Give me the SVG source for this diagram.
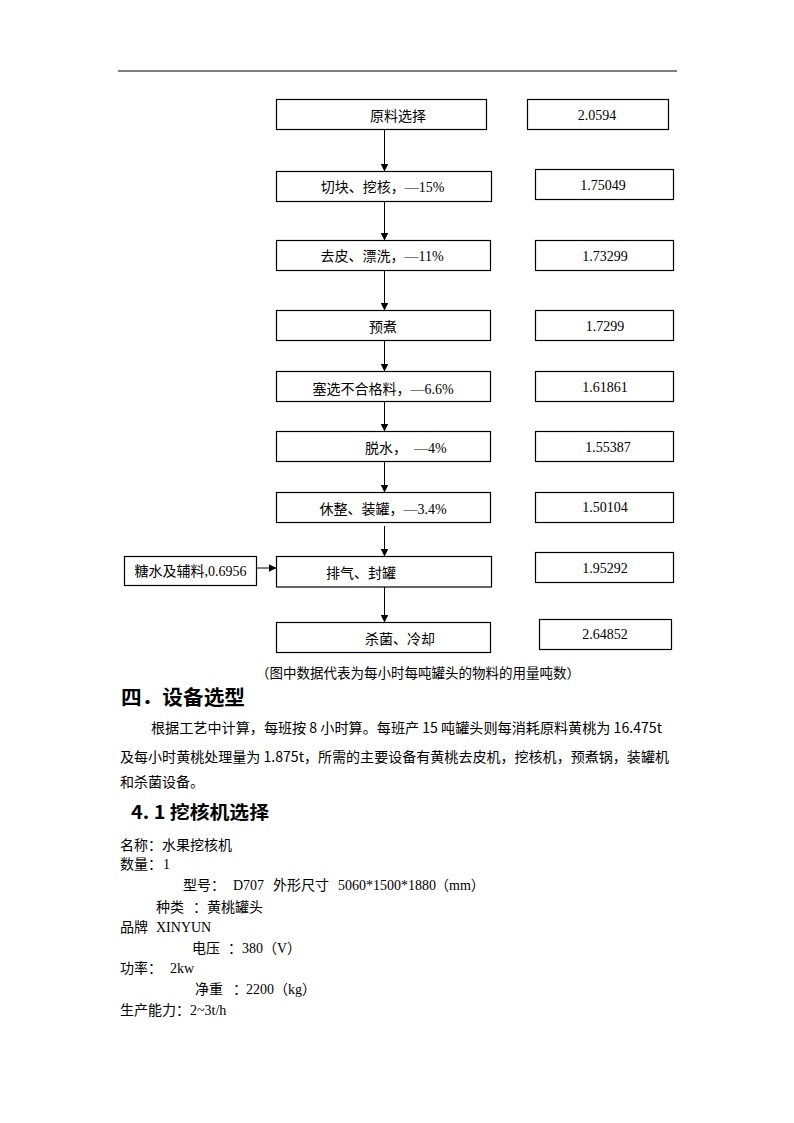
<svg xmlns="http://www.w3.org/2000/svg" width="794" height="1123" viewBox="0 0 794 1123">
<style>
.box{fill:#fff;stroke:#000;stroke-width:1.2}
.t{font-family:'Liberation Serif','Noto Sans CJK SC',serif;font-size:14px;fill:#000}
.m{text-anchor:middle}
.cn{font-family:'Noto Sans CJK SC',sans-serif;font-size:14px;fill:#000}
.h{font-family:'Noto Sans CJK SC',sans-serif;font-weight:bold;fill:#000}
.c{stroke:#000;stroke-width:1;fill:none;marker-end:url(#arr)}
</style>
<defs>
<marker id="arr" viewBox="0 0 8 8" refX="8" refY="4" markerWidth="8" markerHeight="8" markerUnits="userSpaceOnUse" orient="auto">
<path d="M0,0 L8,4 L0,8 z" fill="#000"/>
</marker>
</defs>
<rect width="794" height="1123" fill="#fff"/>
<line x1="118" y1="71" x2="677" y2="71" stroke="#000" stroke-width="1"/>

<g id="connectors">
<line class="c" x1="384.5" y1="129.5" x2="384.5" y2="171.5"/>
<line class="c" x1="384.5" y1="201.5" x2="384.5" y2="240.5"/>
<line class="c" x1="384.5" y1="270.5" x2="384.5" y2="310.5"/>
<line class="c" x1="384.5" y1="340.5" x2="384.5" y2="371.5"/>
<line class="c" x1="384.5" y1="401.5" x2="384.5" y2="431.5"/>
<line class="c" x1="384.5" y1="461.5" x2="384.5" y2="492.5"/>
<line class="c" x1="384.5" y1="526" x2="384.5" y2="556.5"/>
<line class="c" x1="384.5" y1="587" x2="384.5" y2="622.5"/>
<line class="c" x1="256.5" y1="568" x2="276.5" y2="568"/>
</g>

<g id="n1"><rect class="box" x="276.5" y="99.5" width="210" height="30"/><text class="t m" x="398" y="121">原料选择</text></g>
<g id="v1"><rect class="box" x="527.5" y="99.5" width="141" height="30"/><text class="t m" x="597" y="120">2.0594</text></g>
<g id="n2"><rect class="box" x="276.5" y="171.5" width="215" height="30"/><text class="t m" x="382.5" y="192">切块、挖核，—15%</text></g>
<g id="v2"><rect class="box" x="535.5" y="169.5" width="138" height="30"/><text class="t m" x="603" y="190">1.75049</text></g>
<g id="n3"><rect class="box" x="276.5" y="240.5" width="214" height="30"/><text class="t m" x="382" y="261">去皮、漂洗，—11%</text></g>
<g id="v3"><rect class="box" x="535.5" y="240.5" width="138" height="30"/><text class="t m" x="605" y="261">1.73299</text></g>
<g id="n4"><rect class="box" x="276.5" y="310.5" width="214" height="30"/><text class="t m" x="383" y="332">预煮</text></g>
<g id="v4"><rect class="box" x="535.5" y="310.5" width="138" height="30"/><text class="t m" x="605" y="331">1.7299</text></g>
<g id="n5"><rect class="box" x="276.5" y="371.5" width="214" height="30"/><text class="t m" x="383" y="394">塞选不合格料，—6.6%</text></g>
<g id="v5"><rect class="box" x="535.5" y="371.5" width="138" height="30"/><text class="t m" x="605" y="392">1.61861</text></g>
<g id="n6"><rect class="box" x="276.5" y="431.5" width="214" height="30"/><text class="t" x="365" y="453" xml:space="preserve">脱水，  —4%</text></g>
<g id="v6"><rect class="box" x="535.5" y="431.5" width="138" height="30"/><text class="t m" x="608" y="452">1.55387</text></g>
<g id="n7"><rect class="box" x="276.5" y="492.5" width="214" height="30"/><text class="t m" x="383" y="514">休整、装罐，—3.4%</text></g>
<g id="v7"><rect class="box" x="535.5" y="492.5" width="138" height="30"/><text class="t m" x="605" y="512">1.50104</text></g>
<g id="src"><rect class="box" x="124.5" y="556.5" width="132" height="29"/><text class="t m" x="190.5" y="576">糖水及辅料,0.6956</text></g>
<g id="n8"><rect class="box" x="276.5" y="556.5" width="215" height="30.5"/><text class="t m" x="361" y="578">排气、封罐</text></g>
<g id="v8"><rect class="box" x="535.5" y="552.5" width="138" height="30"/><text class="t m" x="605" y="573">1.95292</text></g>
<g id="n9"><rect class="box" x="276.5" y="622.5" width="214" height="30"/><text class="t m" x="400" y="644">杀菌、冷却</text></g>
<g id="v9"><rect class="box" x="539.5" y="619.5" width="132" height="30"/><text class="t m" x="605" y="639">2.64852</text></g>

<text class="cn m" x="418" y="678" style="font-size:13.5px">（图中数据代表为每小时每吨罐头的物料的用量吨数）</text>

<text class="h" x="121" y="705" style="font-size:20px" textLength="124" lengthAdjust="spacingAndGlyphs">四．设备选型</text>
<text class="cn" x="151" y="733" textLength="511" lengthAdjust="spacingAndGlyphs">根据工艺中计算，每班按 8 小时算。每班产 15 吨罐头则每消耗原料黄桃为 16.475t</text>
<text class="cn" x="120" y="762" textLength="549" lengthAdjust="spacingAndGlyphs">及每小时黄桃处理量为 1.875t，所需的主要设备有黄桃去皮机，挖核机，预煮锅，装罐机</text>
<text class="cn" x="120" y="787">和杀菌设备。</text>

<text class="h" x="131" y="819" style="font-size:18px" textLength="138" lengthAdjust="spacingAndGlyphs">4. 1  挖核机选择</text>

<text class="t" x="120" y="850">名称：水果挖核机</text>
<text class="t" y="869"><tspan x="120">数量：</tspan><tspan x="163">1</tspan></text>
<text class="t" y="890"><tspan x="183">型号：</tspan><tspan x="233">D707</tspan><tspan x="273">外形尺寸</tspan><tspan x="338">5060*1500*1880</tspan><tspan x="435">（mm）</tspan></text>
<text class="t" y="912"><tspan x="156">种类</tspan><tspan x="193">：黄桃罐头</tspan></text>
<text class="t" y="932"><tspan x="120">品牌</tspan><tspan x="156">XINYUN</tspan></text>
<text class="t" y="953"><tspan x="192">电压</tspan><tspan x="228">：</tspan><tspan x="242">380（V）</tspan></text>
<text class="t" y="973"><tspan x="120">功率：</tspan><tspan x="170">2kw</tspan></text>
<text class="t" y="994"><tspan x="195">净重</tspan><tspan x="233">：</tspan><tspan x="246">2200（kg）</tspan></text>
<text class="t" y="1015"><tspan x="120">生产能力：</tspan><tspan x="190">2~3t/h</tspan></text>
</svg>
